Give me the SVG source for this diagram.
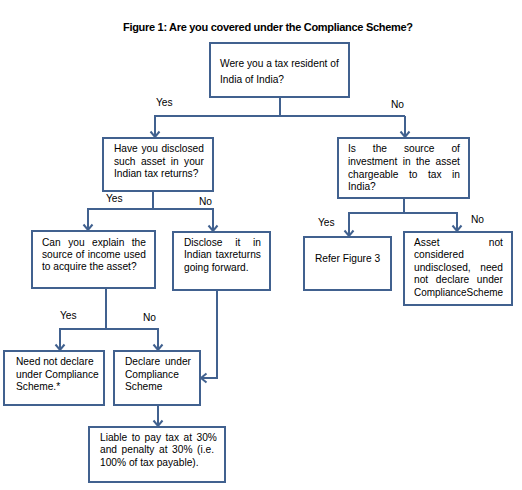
<svg xmlns="http://www.w3.org/2000/svg" width="522" height="490" viewBox="0 0 522 490">
<defs>
<marker id="ah" markerUnits="userSpaceOnUse" markerWidth="12" markerHeight="12" viewBox="-7 -6 8 12" refX="0" refY="0" orient="auto">
<path d="M-5.5,-4.5 L0,0 L-5.5,4.5" fill="none" stroke="#41618f" stroke-width="2"/>
</marker>
<style>
.box{fill:#fff;stroke:#41618f;stroke-width:2}
.t{font-family:"Liberation Sans",Arial,sans-serif;font-size:10.2px;fill:#000}
.ttl{font-family:"Liberation Sans",Arial,sans-serif;font-size:11px;font-weight:bold;fill:#000}
.ln{fill:none;stroke:#41618f;stroke-width:2}
.ar{fill:none;stroke:#41618f;stroke-width:2;marker-end:url(#ah)}
</style>
</defs>
<rect width="522" height="490" fill="#fff"/>
<text class="ttl" x="123" y="31" textLength="290" lengthAdjust="spacing">Figure 1: Are you covered under the Compliance Scheme?</text>

<g id="connectors">
<path class="ln" d="M280,97 V116 M154,116 H405"/>
<path class="ar" d="M155,116 V137"/>
<path class="ar" d="M405,116 V137"/>
<path class="ln" d="M153,191 V209 M87,209 H214"/>
<path class="ar" d="M88,209 V230"/>
<path class="ar" d="M213,209 V231"/>
<path class="ln" d="M404,198 V213 M348,213 H458"/>
<path class="ar" d="M349,213 V236"/>
<path class="ar" d="M457,213 V231"/>
<path class="ln" d="M106,288 V329 M59,329 H159"/>
<path class="ar" d="M60,329 V350"/>
<path class="ar" d="M158,329 V350"/>
<path class="ar" d="M217,290 V378 H201"/>
<path class="ar" d="M158,405 V426"/>
</g>

<g id="labels">
<text class="t" x="156" y="106">Yes</text>
<text class="t" x="391" y="108">No</text>
<text class="t" x="106" y="202">Yes</text>
<text class="t" x="199" y="205">No</text>
<text class="t" x="318" y="226">Yes</text>
<text class="t" x="471" y="223">No</text>
<text class="t" x="60" y="319">Yes</text>
<text class="t" x="143" y="321">No</text>
</g>

<g id="n1">
<rect class="box" x="210" y="43" width="139" height="54"/>
<text class="t" x="220" y="67">Were you a tax resident of</text>
<text class="t" x="220" y="83">India of India?</text>
</g>
<g id="n2">
<rect class="box" x="103" y="138" width="110" height="53"/>
<text class="t" x="114" y="152" word-spacing="0.78">Have you disclosed</text>
<text class="t" x="114" y="165" word-spacing="2.6">such asset in your</text>
<text class="t" x="114" y="177">Indian tax returns?</text>
</g>
<g id="n3">
<rect class="box" x="338" y="138" width="131" height="60"/>
<text class="t" x="348" y="152" word-spacing="14.09">Is the source of</text>
<text class="t" x="348" y="165" word-spacing="2.56">investment in the asset</text>
<text class="t" x="348" y="178" word-spacing="7.66">chargeable to tax in</text>
<text class="t" x="348" y="190">India?</text>
</g>
<g id="n4">
<rect class="box" x="32" y="231" width="123" height="57"/>
<text class="t" x="42" y="246" word-spacing="4.62">Can you explain the</text>
<text class="t" x="42" y="258" word-spacing="0.46">source of income used</text>
<text class="t" x="42" y="270">to acquire the asset?</text>
</g>
<g id="n5">
<rect class="box" x="173" y="232" width="97" height="58"/>
<text class="t" x="184" y="246" word-spacing="9.88">Disclose it in</text>
<text class="t" x="184" y="258" word-spacing="1.03">Indian taxreturns</text>
<text class="t" x="184" y="271">going forward.</text>
</g>
<g id="n6">
<rect class="box" x="304" y="237" width="87" height="53"/>
<text class="t" x="315" y="262">Refer Figure 3</text>
</g>
<g id="n7">
<rect class="box" x="404" y="232" width="108" height="73"/>
<text class="t" x="414" y="246" word-spacing="46.48">Asset not</text>
<text class="t" x="414" y="258">considered</text>
<text class="t" x="414" y="271" word-spacing="6.79">undisclosed, need</text>
<text class="t" x="414" y="283" word-spacing="4.81">not declare under</text>
<text class="t" x="414" y="296" textLength="89" lengthAdjust="spacingAndGlyphs">ComplianceScheme</text>
</g>
<g id="n8">
<rect class="box" x="4" y="351" width="100" height="54"/>
<text class="t" x="16" y="365">Need not declare</text>
<text class="t" x="16" y="378">under Compliance</text>
<text class="t" x="16" y="390">Scheme.*</text>
</g>
<g id="n9">
<rect class="box" x="114" y="351" width="86" height="54"/>
<text class="t" x="125" y="365" word-spacing="2">Declare under</text>
<text class="t" x="125" y="378">Compliance</text>
<text class="t" x="125" y="390">Scheme</text>
</g>
<g id="n10">
<rect class="box" x="89" y="427" width="136" height="55"/>
<text class="t" x="100" y="441" word-spacing="1.63">Liable to pay tax at 30%</text>
<text class="t" x="100" y="453" word-spacing="1.75">and penalty at 30% (i.e.</text>
<text class="t" x="100" y="466">100% of tax payable).</text>
</g>
</svg>
